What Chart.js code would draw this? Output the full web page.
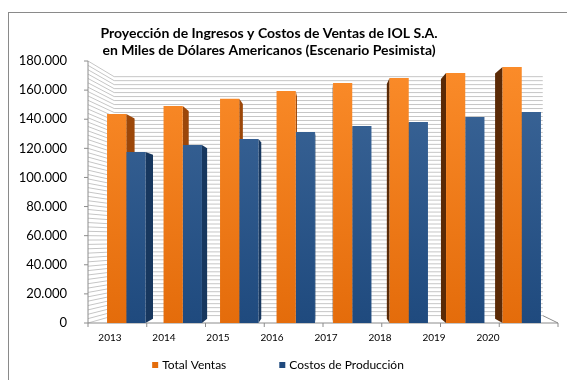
<!DOCTYPE html>
<html lang="es">
<head>
<meta charset="utf-8">
<title>Proyección de Ingresos y Costos de Ventas de IOL S.A.</title>
<script src="https://cdn.jsdelivr.net/npm/chart.js@4.4.1/dist/chart.umd.min.js"></script>
<style>
  html, body { margin: 0; padding: 0; background: #fff; }
  #chart { display: block; }
</style>
</head>
<body>
<canvas id="chart" width="567" height="380"></canvas>
<script>
const years = ['2013', '2014', '2015', '2016', '2017', '2018', '2019', '2020'];
const totalVentas = [143600, 149000, 154000, 159400, 164800, 168300, 171800, 175900];
const costosProduccion = [117500, 122300, 126400, 131200, 135300, 138100, 141500, 145000];
const yMax = 180000;
const yStep = 20000;
const wallStep = 3000;

const FONT = 'Lato, "DejaVu Sans", sans-serif';

// 180000 -> "180.000"
const fmt = v => String(v).replace(/\B(?=(\d{3})+(?!\d))/g, '.');

// perspective helpers: bar back faces shrink toward the eye point,
// the walls of the box shrink toward their own point
const EYE_X = 325, EYE_Y = 220, BAR_S = 0.958;
const WALL_CX = 385, WALL_CY = 239, WALL_S = 0.912;
const FRONT_CX = 349, FRONT_S = 0.9617;

const frontX = px => FRONT_CX + (px - FRONT_CX) / FRONT_S;
const wallX = px => WALL_CX + WALL_S * (px - WALL_CX);
const wallY = py => WALL_CY + WALL_S * (py - WALL_CY);

const sideColors = [
  { right: '#9c4709', left: '#5b2a06' },
  { right: '#17375e', left: '#10253f' }
];

function gradient(chart, top, bottom, fallback) {
  const ca = chart.chartArea;
  if (!ca) return fallback;
  const g = chart.ctx.createLinearGradient(0, ca.top, 0, ca.bottom);
  g.addColorStop(0, top);
  g.addColorStop(1, bottom);
  return g;
}

const box3d = {
  id: 'box3d',
  beforeDatasetsDraw(chart) {
    const { ctx, chartArea: ca, scales: { x, y } } = chart;
    const fl = frontX(ca.left), fr = frontX(ca.right);
    const bl = wallX(fl), br = wallX(fr);
    const yBot = y.getPixelForValue(0), yTop = y.getPixelForValue(yMax);

    ctx.save();
    // side wall + back wall lines
    ctx.strokeStyle = '#c6c6c6';
    ctx.lineWidth = 1;
    ctx.beginPath();
    for (let v = 0; v <= yMax; v += wallStep) {
      const py = y.getPixelForValue(v);
      const by = wallY(py);
      ctx.moveTo(fl, py);
      ctx.lineTo(bl, by);
      ctx.lineTo(br, by);
    }
    ctx.stroke();

    // floor edges, axis line and tick marks
    ctx.strokeStyle = '#8c8c8c';
    ctx.beginPath();
    ctx.moveTo(fl, yTop);
    ctx.lineTo(fl, yBot);
    ctx.lineTo(fr, yBot);
    ctx.lineTo(br, wallY(yBot));
    for (let v = 0; v <= yMax; v += yStep) {
      const py = y.getPixelForValue(v);
      ctx.moveTo(fl - 4, py);
      ctx.lineTo(fl, py);
    }
    const half = (x.getPixelForValue(1) - x.getPixelForValue(0)) / 2;
    for (let i = 0; i <= years.length; i++) {
      const fx = frontX(x.getPixelForValue(i) - half);
      ctx.moveTo(fx, yBot);
      ctx.lineTo(fx, yBot + 4);
    }
    ctx.stroke();

    // side faces of the columns
    chart.data.datasets.forEach((ds, di) => {
      chart.getDatasetMeta(di).data.forEach(bar => {
        const p = bar.getProps(['x', 'y', 'base', 'width'], true);
        const left = p.x - p.width / 2, right = p.x + p.width / 2;
        let edge, color;
        if (right < EYE_X) { edge = right; color = sideColors[di].right; }
        else if (left > EYE_X) { edge = left; color = sideColors[di].left; }
        else return;
        const ex = EYE_X + BAR_S * (edge - EYE_X);
        ctx.fillStyle = color;
        ctx.beginPath();
        ctx.moveTo(edge, p.y);
        ctx.lineTo(ex, EYE_Y + BAR_S * (p.y - EYE_Y));
        ctx.lineTo(ex, EYE_Y + BAR_S * (p.base - EYE_Y));
        ctx.lineTo(edge, p.base);
        ctx.closePath();
        ctx.fill();
      });
    });
    ctx.restore();
  },
  afterDraw(chart) {
    const { ctx, scales: { x, y } } = chart;
    ctx.save();
    // category labels sit on the projected front edge
    ctx.fillStyle = '#000';
    ctx.font = '10px ' + FONT;
    ctx.textAlign = 'center';
    ctx.textBaseline = 'middle';
    const labelY = y.getPixelForValue(0) + 15;
    years.forEach((yr, i) => {
      ctx.fillText(yr, -10.7 + 0.9558 * x.getPixelForValue(i), labelY);
    });

    // legend
    ctx.font = '12px ' + FONT;
    ctx.textAlign = 'left';
    const items = chart.data.datasets.map(ds => ({ text: ds.label, color: ds.legendColor }));
    const widths = items.map(it => 6 + 4 + ctx.measureText(it.text).width);
    const gap = 53;
    const total = widths.reduce((a, b) => a + b, 0) + gap * (items.length - 1);
    let lx = 278 - total / 2;
    const ly = 365;
    items.forEach((it, i) => {
      ctx.fillStyle = it.color;
      ctx.fillRect(lx, ly - 3, 6, 6);
      ctx.fillStyle = '#000';
      ctx.fillText(it.text, lx + 10, ly);
      lx += widths[i] + gap;
    });

    // outer frame
    ctx.strokeStyle = '#8a8a8a';
    ctx.lineWidth = 1;
    ctx.strokeRect(8.5, 12.5, 620, 420);
    ctx.restore();
  }
};

new Chart(document.getElementById('chart'), {
  type: 'bar',
  data: {
    labels: years,
    datasets: [
      {
        label: 'Total Ventas',
        data: totalVentas,
        legendColor: '#e46c0a',
        backgroundColor: c => gradient(c.chart, '#fb8c2a', '#e46c0b', '#e46c0a'),
        borderWidth: 0
      },
      {
        label: 'Costos de Producción',
        data: costosProduccion,
        legendColor: '#1f497d',
        backgroundColor: c => gradient(c.chart, '#3d6799', '#1f4a7e', '#1f497d'),
        borderWidth: 0
      }
    ]
  },
  options: {
    responsive: false,
    animation: false,
    categoryPercentage: 0.68,
    barPercentage: 1.0,
    layout: { padding: { left: -12, right: 17, top: 14, bottom: 0 } },
    scales: {
      x: {
        grid: { display: false },
        border: { display: false },
        ticks: { display: false },
        afterFit: s => { s.height = 57; }
      },
      y: {
        min: 0,
        max: yMax,
        ticks: {
          stepSize: yStep,
          padding: 31,
          color: '#000',
          font: { family: FONT, size: 13 },
          callback: v => fmt(v)
        },
        grid: { display: false, drawTicks: false },
        border: { display: false },
        afterFit: s => { s.width = 110; }
      }
    },
    plugins: {
      legend: { display: false },
      tooltip: { enabled: false },
      title: {
        display: true,
        text: [
          'Proyección de Ingresos y Costos de Ventas de IOL S.A.',
          'en Miles de Dólares Americanos (Escenario Pesimista)'
        ],
        color: '#000',
        font: { family: FONT, size: 14, weight: 'bold', lineHeight: 1.2 },
        padding: { top: 11, bottom: 2.4 }
      }
    }
  },
  plugins: [box3d]
});
</script>
</body>
</html>
